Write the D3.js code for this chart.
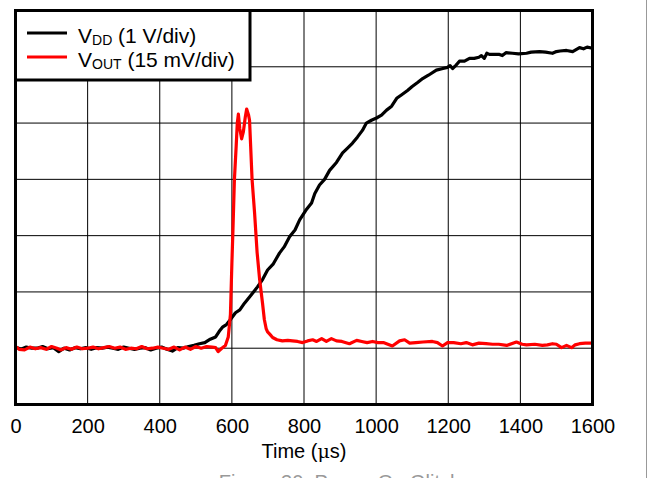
<!DOCTYPE html>
<html>
<head>
<meta charset="utf-8">
<script src="https://cdn.jsdelivr.net/npm/d3@7"></script>
<style>
  body { margin: 0; background: #fff; }
  svg { display: block; font-family: "Liberation Sans", Arial, sans-serif; }
</style>
</head>
<body>
<div id="main"></div>
<script>
const ctx = {
    w: 647,
    h: 478,
    left: 15.5,
    right: 592.5,
    top: 10.5,
    bottom: 404.5,
    X_MAX: 1600,
    Y_DIVS: 7,
};

// x ticks (µs)
const xTicks = [0, 200, 400, 600, 800, 1000, 1200, 1400, 1600];

// VDD trace: time (µs) and level in divisions (0 = bottom of screen)
const vddTime = [0, 15, 30, 45, 60, 75, 90, 105, 120, 135, 150, 165, 180, 195, 210, 225, 240, 255, 270, 285,
    300, 315, 330, 345, 360, 375, 390, 405, 420, 435, 450, 465, 480, 495, 510, 525, 540, 555, 565, 575,
    585, 595, 610, 622, 635, 649, 660, 671, 685, 699, 715, 732, 745, 760, 775, 788, 805, 821, 830, 843,
    857, 871, 890, 907, 920, 934, 948, 962, 973, 987, 1001, 1015, 1029, 1043, 1057, 1070, 1087, 1100, 1115, 1129,
    1145, 1167, 1185, 1198, 1205, 1212, 1222, 1231, 1245, 1259, 1272, 1285, 1292, 1300, 1307, 1314, 1330, 1342, 1350, 1360,
    1378, 1395, 1417, 1430, 1453, 1470, 1489, 1500, 1510, 1528, 1545, 1564, 1575, 1585, 1600];
const vddDiv = [1.02, 0.98, 1.02, 1.00, 1.00, 1.03, 0.99, 1.01, 0.94, 1.00, 0.97, 1.01, 0.99, 1.01, 0.98, 1.01, 1.00, 1.02, 1.00, 0.98,
    1.02, 1.00, 0.98, 1.00, 1.01, 0.97, 1.00, 1.02, 0.98, 0.95, 1.01, 1.00, 1.03, 1.05, 1.08, 1.10, 1.16, 1.20, 1.30, 1.38,
    1.42, 1.50, 1.63, 1.68, 1.80, 1.91, 2.00, 2.09, 2.22, 2.39, 2.50, 2.69, 2.80, 2.98, 3.10, 3.28, 3.45, 3.58, 3.75, 3.90,
    4.00, 4.16, 4.30, 4.47, 4.55, 4.64, 4.75, 4.87, 5.00, 5.05, 5.09, 5.14, 5.23, 5.30, 5.44, 5.50, 5.58, 5.65, 5.72, 5.79,
    5.85, 5.94, 5.97, 5.99, 6.02, 5.97, 6.03, 6.10, 6.10, 6.15, 6.15, 6.17, 6.20, 6.15, 6.24, 6.22, 6.22, 6.22, 6.20, 6.25,
    6.24, 6.23, 6.24, 6.26, 6.27, 6.26, 6.24, 6.27, 6.28, 6.29, 6.27, 6.34, 6.32, 6.35, 6.33];

// VOUT trace
const voutTime = [0, 10, 25, 40, 55, 70, 85, 100, 115, 125, 140, 155, 170, 185, 200, 215, 230, 245, 260, 275,
    290, 305, 320, 335, 350, 365, 380, 395, 410, 425, 440, 455, 470, 485, 500, 515, 530, 545, 555, 562,
    572, 582, 590, 596, 600, 603, 607, 612, 615, 618, 622, 627, 632, 637, 641, 646, 649, 652, 656, 663,
    670, 677, 685, 690, 695, 699, 705, 713, 725, 740, 755, 768, 782, 796, 810, 824, 835, 849, 862, 876,
    890, 905, 926, 946, 960, 975, 990, 1005, 1020, 1045, 1065, 1079, 1093, 1110, 1130, 1156, 1170, 1184, 1198, 1215,
    1235, 1250, 1267, 1285, 1305, 1323, 1340, 1362, 1389, 1405, 1417, 1440, 1461, 1475, 1489, 1500, 1514, 1528, 1542, 1552,
    1564, 1580, 1600];
const voutDiv = [1.03, 0.98, 0.97, 1.02, 0.99, 1.01, 0.98, 1.03, 1.00, 0.97, 1.01, 0.98, 1.02, 0.99, 1.00, 1.02, 0.99, 1.01, 1.03, 1.00,
    1.02, 0.98, 1.00, 0.99, 1.03, 0.99, 1.00, 1.02, 1.00, 0.98, 1.02, 0.97, 1.02, 0.98, 1.03, 1.00, 1.03, 1.02, 1.01, 0.94,
    1.00, 1.05, 1.20, 1.60, 2.50, 3.10, 3.99, 4.60, 5.00, 5.16, 4.90, 4.72, 4.85, 5.10, 5.25, 5.15, 5.05, 4.60, 4.00, 3.40,
    2.70, 2.22, 1.80, 1.51, 1.35, 1.29, 1.25, 1.19, 1.15, 1.13, 1.14, 1.13, 1.12, 1.10, 1.13, 1.15, 1.12, 1.17, 1.12, 1.17,
    1.13, 1.12, 1.08, 1.14, 1.12, 1.10, 1.12, 1.10, 1.10, 1.04, 1.13, 1.15, 1.09, 1.10, 1.11, 1.12, 1.10, 1.04, 1.10, 1.10,
    1.08, 1.10, 1.06, 1.09, 1.08, 1.07, 1.07, 1.05, 1.11, 1.07, 1.06, 1.07, 1.05, 1.06, 1.08, 1.07, 1.01, 1.05, 1.01, 1.06,
    1.08, 1.09, 1.09];

const seriesSubs = ["DD", "OUT"];
const seriesUnits = [" (1 V/div)", " (15 mV/div)"];
const seriesColors = ["#000000", "#ff0000"];

function createViz() {
    let svgEl = d3.select("#main").append("svg")
        .attr("width", ctx.w)
        .attr("height", ctx.h);

    let x = d3.scaleLinear().domain([0, ctx.X_MAX]).range([ctx.left, ctx.right]);
    let y = d3.scaleLinear().domain([0, ctx.Y_DIVS]).range([ctx.bottom, ctx.top]);

    // page edge line on the right
    svgEl.append("line")
        .attr("x1", 646.5).attr("x2", 646.5)
        .attr("y1", 0).attr("y2", ctx.h)
        .attr("stroke", "#999").attr("stroke-width", 1);

    // grid
    let gridG = svgEl.append("g").attr("id", "grid");
    gridG.selectAll("line.v")
        .data(xTicks.slice(1, -1))
        .enter().append("line")
        .classed("v", true)
        .attr("x1", (d) => x(d)).attr("x2", (d) => x(d))
        .attr("y1", ctx.top).attr("y2", ctx.bottom)
        .attr("stroke", "#000").attr("stroke-width", 1);
    gridG.selectAll("line.h")
        .data(d3.range(1, ctx.Y_DIVS))
        .enter().append("line")
        .classed("h", true)
        .attr("x1", ctx.left).attr("x2", ctx.right)
        .attr("y1", (d) => y(d)).attr("y2", (d) => y(d))
        .attr("stroke", "#000").attr("stroke-width", 1);

    // traces
    svgEl.append("clipPath").attr("id", "plotClip")
        .append("rect")
        .attr("x", ctx.left).attr("y", ctx.top)
        .attr("width", ctx.right - ctx.left).attr("height", ctx.bottom - ctx.top);
    let line = d3.line()
        .x((d) => x(d[0]))
        .y((d) => y(d[1]));
    let traces = [d3.zip(vddTime, vddDiv), d3.zip(voutTime, voutDiv)];
    // red drawn on top of black
    traces.forEach(function (pts, i) {
        svgEl.append("path")
            .datum(pts)
            .attr("clip-path", "url(#plotClip)")
            .attr("fill", "none")
            .attr("stroke", seriesColors[i])
            .attr("stroke-width", 3.2)
            .attr("stroke-linejoin", "round")
            .attr("d", line);
    });

    // frame
    svgEl.append("rect")
        .attr("x", ctx.left).attr("y", ctx.top)
        .attr("width", ctx.right - ctx.left).attr("height", ctx.bottom - ctx.top)
        .attr("fill", "none").attr("stroke", "#000").attr("stroke-width", 3);

    // x axis labels
    let axisG = svgEl.append("g")
        .attr("transform", `translate(0,${ctx.bottom})`)
        .call(d3.axisBottom(x).tickValues(xTicks).tickFormat(d3.format("d"))
            .tickSize(0).tickPadding(14));
    axisG.select(".domain").remove();
    axisG.selectAll("text")
        .attr("font-family", "Liberation Sans, Arial, sans-serif")
        .attr("font-size", 20)
        .attr("fill", "#000");

    let xTitle = svgEl.append("text")
        .attr("x", (ctx.left + ctx.right) / 2)
        .attr("y", 458)
        .attr("text-anchor", "middle")
        .attr("font-size", 20);
    xTitle.append("tspan").text("Time (");
    xTitle.append("tspan").attr("font-family", "DejaVu Serif, serif").attr("font-size", 19).text("μ");
    xTitle.append("tspan").text("s)");

    // caption, cut off by the bottom of the picture
    svgEl.append("text")
        .attr("x", 340)
        .attr("y", 489)
        .attr("text-anchor", "middle")
        .attr("font-size", 20)
        .attr("fill", "#999")
        .text("Figure 30. Power-On Glitch");

    // legend
    let legendG = svgEl.append("g").attr("id", "legend");
    legendG.append("rect")
        .attr("x", ctx.left).attr("y", ctx.top)
        .attr("width", 250 - ctx.left).attr("height", 80 - ctx.top)
        .attr("fill", "#fff").attr("stroke", "#000").attr("stroke-width", 3);
    seriesSubs.forEach(function (sub, i) {
        let ly = 33 + i * 24;
        legendG.append("line")
            .attr("x1", 27).attr("x2", 67)
            .attr("y1", ly).attr("y2", ly)
            .attr("stroke", seriesColors[i]).attr("stroke-width", 3);
        let t = legendG.append("text")
            .attr("x", 78)
            .attr("y", ly + 10)
            .attr("font-size", 21);
        t.append("tspan").text("V");
        t.append("tspan").attr("font-size", 14).attr("dy", 2).text(sub);
        t.append("tspan").attr("dy", -2).text(seriesUnits[i]);
    });
}

createViz();
</script>
</body>
</html>
